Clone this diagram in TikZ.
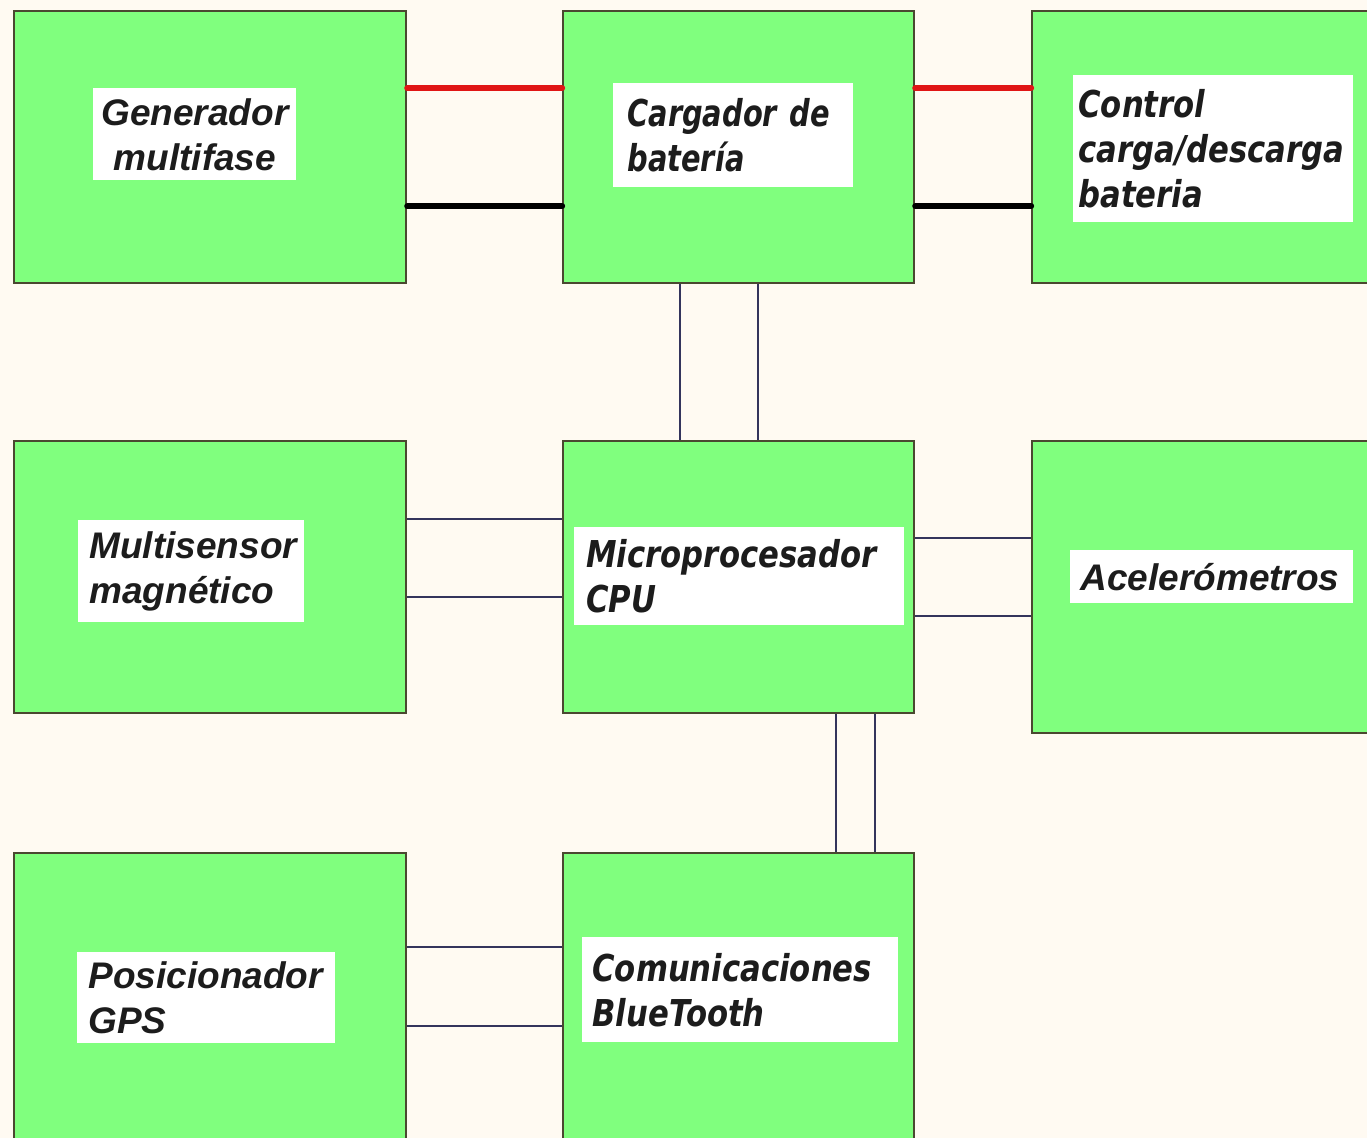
\documentclass[tikz,border=0pt]{standalone}
\usepackage{fontspec}
\newfontfamily\arialf{Liberation Sans}
\newfontfamily\tahf{DejaVu Sans}[FakeStretch=0.83]
\newfontfamily\tahnf{DejaVu Sans}[FakeStretch=0.78]
\definecolor{bgc}{HTML}{FFFAF2}
\definecolor{boxgreen}{HTML}{80FF7E}
\definecolor{boxedge}{HTML}{4A4830}
\definecolor{wirec}{HTML}{34345C}
\definecolor{redc}{HTML}{E01515}
\definecolor{txt}{HTML}{1C1C1C}
\begin{document}
\begin{tikzpicture}[x=0.5pt,y=-0.5pt,
  box/.style={draw=boxedge, line width=1.2pt, fill=boxgreen, rectangle, inner sep=0pt, anchor=north west},
  lbl/.style={fill=white, inner ysep=0pt, anchor=north west, align=left, text=txt},
  afont/.style={font=\arialf\bfseries\itshape\fontsize{18.5}{22.5}\selectfont},
  tfont/.style={font=\tahf\bfseries\itshape\fontsize{18.5}{22.5}\selectfont},
  tnfont/.style={font=\tahnf\bfseries\itshape\fontsize{18.5}{22.5}\selectfont},
  wire/.style={draw=wirec, line width=1pt},
  redw/.style={draw=redc, line width=3.2pt, line cap=round},
  blkw/.style={draw=black, line width=3.2pt, line cap=round}]
\useasboundingbox (0,0) rectangle (1367,1138);
\fill[bgc] (0,0) rectangle (1367,1138);
\clip (0,0) rectangle (1367,1138);

% boxes
\node[box, minimum width=196pt, minimum height=136pt] (gen) at (13,10) {};
\node[box, minimum width=175.5pt, minimum height=136pt] (carg) at (562,10) {};
\node[box, minimum width=174.5pt, minimum height=136pt] (ctrl) at (1031,10) {};
\node[box, minimum width=196pt, minimum height=136pt] (multi) at (13,440) {};
\node[box, minimum width=175.5pt, minimum height=136pt] (micro) at (562,440) {};
\node[box, minimum width=174.5pt, minimum height=146pt] (acel) at (1031,440) {};
\node[box, minimum width=196pt, minimum height=149pt] (gps) at (13,852) {};
\node[box, minimum width=175.5pt, minimum height=149pt] (comm) at (562,852) {};

% labels
\node[lbl, afont, align=center, inner xsep=0pt, text width=101.5pt, minimum height=46pt] (lgen) at (93,88) {Generador\\multifase};
\node[lbl, tnfont, inner xsep=7pt, text width=106pt, minimum height=52pt] (lcarg) at (613,83) {Cargador de\\batería};
\node[lbl, tfont, inner xsep=2.5pt, text width=135pt, minimum height=73.5pt] (lctrl) at (1073,75) {Control\\carga/descarga\\bateria};
\node[lbl, afont, inner xsep=5.5pt, text width=102pt, minimum height=51pt] (lmulti) at (78,520) {Multisensor\\magnético};
\node[lbl, tfont, inner xsep=6pt, text width=153pt, minimum height=49pt] (lmicro) at (574,527) {Microprocesador\\CPU};
\node[lbl, afont, inner xsep=5pt, text width=131.5pt, minimum height=26.5pt] (lacel) at (1070,550) {Acelerómetros};
\node[lbl, afont, inner xsep=5.5pt, text width=118pt, minimum height=45.5pt] (lgps) at (77,952) {Posicionador\\GPS};
\node[lbl, tfont, inner xsep=5pt, text width=148pt, minimum height=52.5pt] (lcomm) at (582,937) {Comunicaciones\\BlueTooth};

% power lines
\draw[redw] ([yshift=29.5pt]gen.east) -- ([yshift=29.5pt]carg.west);
\draw[blkw] ([yshift=-29.5pt]gen.east) -- ([yshift=-29.5pt]carg.west);
\draw[redw] ([yshift=29.5pt]carg.east) -- ([yshift=29.5pt]ctrl.west);
\draw[blkw] ([yshift=-29.5pt]carg.east) -- ([yshift=-29.5pt]ctrl.west);

% signal lines
\draw[wire] ([xshift=-29.25pt]carg.south) -- ([xshift=-29.25pt]micro.north);
\draw[wire] ([xshift=9.75pt]carg.south) -- ([xshift=9.75pt]micro.north);
\draw[wire] ([yshift=29pt]multi.east) -- ([yshift=29pt]micro.west);
\draw[wire] ([yshift=-10pt]multi.east) -- ([yshift=-10pt]micro.west);
\draw[wire] ([yshift=19.5pt]micro.east) -- ([yshift=19.5pt]micro.east -| acel.west);
\draw[wire] ([yshift=-19.5pt]micro.east) -- ([yshift=-19.5pt]micro.east -| acel.west);
\draw[wire] ([xshift=48.75pt]micro.south) -- ([xshift=48.75pt]micro.south |- comm.north);
\draw[wire] ([xshift=68.25pt]micro.south) -- ([xshift=68.25pt]micro.south |- comm.north);
\draw[wire] ([yshift=-47.5pt]gps.north east) -- ([yshift=-47.5pt]gps.north east -| comm.west);
\draw[wire] ([yshift=-87pt]gps.north east) -- ([yshift=-87pt]gps.north east -| comm.west);
\end{tikzpicture}
\end{document}
